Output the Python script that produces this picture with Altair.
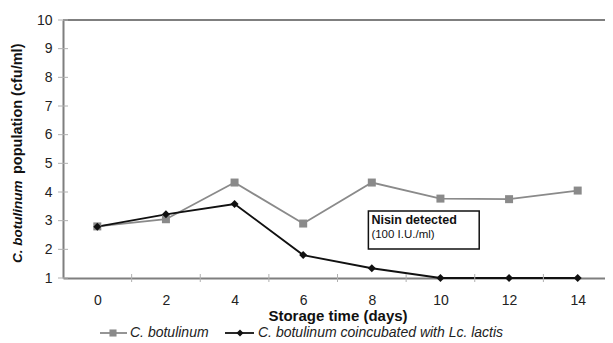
import altair as alt
import pandas as pd

# ---- data ----
days = [0, 2, 4, 6, 8, 10, 12, 14]
botulinum = [2.80, 3.05, 4.33, 2.90, 4.33, 3.77, 3.75, 4.05]
coincubated = [2.79, 3.22, 3.58, 1.80, 1.34, 1.00, 1.00, 1.00]
series_names = ["C. botulinum", "C. botulinum coincubated with Lc. lactis"]
y_tick_values = [1, 2, 3, 4, 5, 6, 7, 8, 9, 10]
x_minor_ticks = [1, 3, 5, 7, 9, 11, 13]
note_lines = ["Nisin detected", "(100 I.U./ml)"]
note_line_y = [3.02, 2.50]
note_box = {"x": 7.9, "x2": 11.13, "y": 3.34, "y2": 2.01}
y_title_parts = ["C. botulinum", "population (cfu/ml)"]
x_title = "Storage time (days)"

FONT = "Liberation Sans"
GREY = "#8a8a8a"
AXIS_GREY = "#7f7f7f"
BLACK = "#111111"
W, H = 542, 258          # visible view (page width limit)
XR = 549                 # full plot-area width of the original (extends past the page edge)

df = pd.DataFrame({
    "day": days * 2,
    "value": botulinum + coincubated,
    "series": [series_names[0]] * len(days) + [series_names[1]] * len(days),
})

xs = alt.Scale(domain=[-1, 15], nice=False, zero=False, range=[0, XR])
ys = alt.Scale(domain=[1, 10], nice=False, zero=False)
xaxis = alt.Axis(values=days, title=x_title, tickSize=0, labelPadding=15, grid=False,
                 titleFont=FONT, titleFontSize=15, titleFontWeight="bold", titlePadding=1,
                 titleColor="#111", titleX=274.5, labelOverlap=False)
yaxis = alt.Axis(values=y_tick_values, title=None, tickSize=0, labelPadding=11, grid=False,
                 labelOverlap=False)


def X(f):
    return alt.X(f, scale=xs, axis=xaxis)


def Y(f):
    return alt.Y(f, scale=ys, axis=yaxis)


color = alt.Color("series:N", scale=alt.Scale(domain=series_names, range=[GREY, BLACK]), legend=None)
shape = alt.Shape("series:N", scale=alt.Scale(domain=series_names, range=["square", "diamond"]), legend=None)

base = alt.Chart(df)

lines = base.mark_line(strokeWidth=1.8).encode(x=X("day:Q"), y=Y("value:Q"), color=color)
points = base.mark_point(filled=True, size=64, opacity=1).encode(
    x=X("day:Q"), y=Y("value:Q"), color=color, shape=shape)

# frame line at the top
top_rule = alt.Chart(df).mark_rule(color=AXIS_GREY, strokeWidth=2).encode(
    x=alt.value(0), x2=alt.value(XR), y=alt.value(0))

# ticks crossing the axes
xt = alt.Chart(pd.DataFrame({"t": x_minor_ticks})).mark_rule(color="#b0b0b0", strokeWidth=1).encode(
    x=X("t:Q"), y=alt.value(H - 4), y2=alt.value(H + 4))
yt = alt.Chart(pd.DataFrame({"t": y_tick_values})).mark_rule(color="#b0b0b0", strokeWidth=1).encode(
    y=Y("t:Q"), x=alt.value(-5), x2=alt.value(5))

# annotation box
box = alt.Chart(pd.DataFrame([note_box])).mark_rect(fill="white", stroke="#111", strokeWidth=1.5).encode(
    x=X("x:Q"), x2="x2:Q", y=Y("y:Q"), y2="y2:Q")
note_df = pd.DataFrame({"text": note_lines, "y": note_line_y, "x": [note_box["x"]] * 2})
note1 = alt.Chart(note_df.iloc[[0]]).mark_text(align="left", baseline="middle", dx=3, font=FONT,
                                               fontSize=12.5, fontWeight="bold", color="#111").encode(
    x=X("x:Q"), y=Y("y:Q"), text="text:N")
note2 = alt.Chart(note_df.iloc[[1]]).mark_text(align="left", baseline="middle", dx=3, font=FONT,
                                               fontSize=11.5, color="#111").encode(
    x=X("x:Q"), y=Y("y:Q"), text="text:N")

# y title in two styles
yt1 = alt.Chart(pd.DataFrame({"t": [y_title_parts[0]]})).mark_text(
    angle=270, align="left", baseline="middle", font=FONT, fontSize=13.5, fontWeight="bold",
    fontStyle="italic", color="#111").encode(x=alt.value(-45), y=alt.value(243), text="t:N")
yt2 = alt.Chart(pd.DataFrame({"t": [y_title_parts[1]]})).mark_text(
    angle=270, align="left", baseline="middle", font=FONT, fontSize=14.5, fontWeight="bold",
    color="#111").encode(x=alt.value(-45), y=alt.value(154), text="t:N")


# legend
def legend_item(name, col, shp, x0, x1, xm, xt_, yy):
    d = pd.DataFrame({"t": [name]})
    r = alt.Chart(d).mark_rule(color=col, strokeWidth=1.8).encode(
        x=alt.value(x0), x2=alt.value(x1), y=alt.value(yy))
    p = alt.Chart(d).mark_point(filled=True, size=50, opacity=1, shape=shp, color=col).encode(
        x=alt.value(xm), y=alt.value(yy))
    t = alt.Chart(d).mark_text(align="left", baseline="middle", font=FONT, fontSize=14,
                               fontStyle="italic", color="#222").encode(
        x=alt.value(xt_), y=alt.value(yy), text="t:N")
    return [r, p, t]


LY = 313
leg = legend_item(series_names[0], GREY, "square", 37, 64, 50, 67, LY) + \
      legend_item(series_names[1], BLACK, "diamond", 162, 191, 177, 195, LY)

chart = alt.layer(
    lines, box, top_rule, xt, yt, points, note1, note2, yt1, yt2, *leg
).properties(
    width=W, height=H,
    autosize=alt.AutoSizeParams(type="none"),
    padding={"left": 55, "top": 12, "right": 0, "bottom": 64},
).configure_view(stroke=None).configure_axis(
    labelFont=FONT, labelFontSize=14, labelColor="#222",
    domainColor=AXIS_GREY, domainWidth=2, labelOverlap=False,
)

chart.save("out.html", embed_options={"renderer": "svg", "actions": False})
